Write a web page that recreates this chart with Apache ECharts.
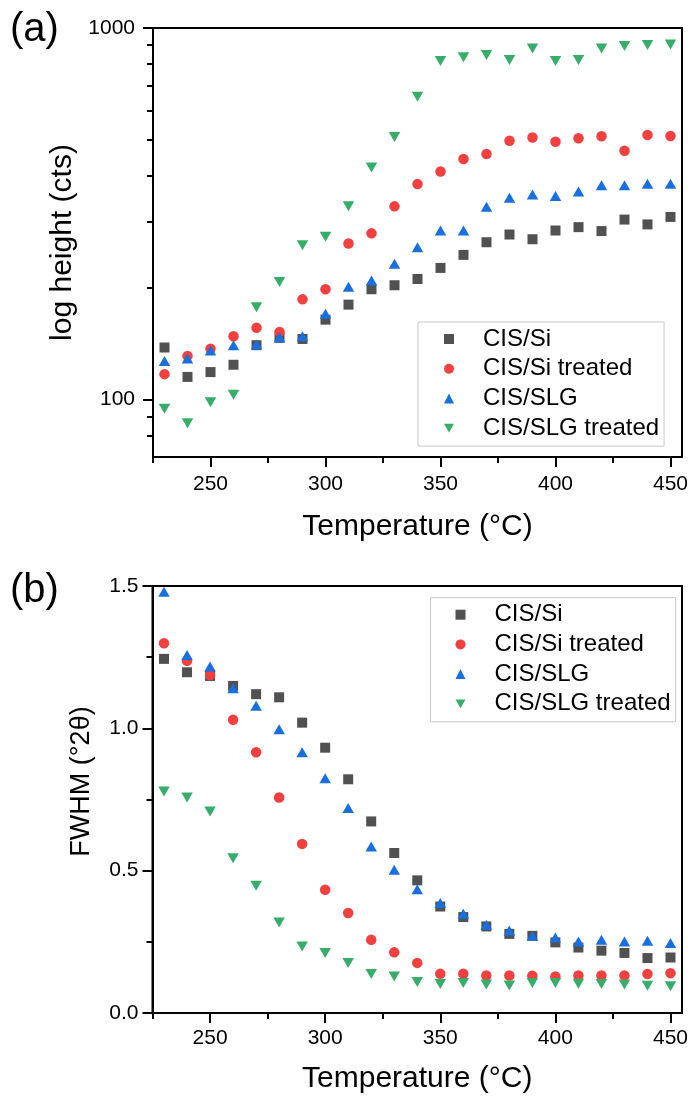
<!DOCTYPE html>
<html>
<head>
<meta charset="utf-8">
<style>
html,body{margin:0;padding:0;background:#fff;}
#c{width:694px;height:1099px;}
</style>
<script src="https://cdn.jsdelivr.net/npm/echarts@6/dist/echarts.min.js"></script>
</head>
<body>
<div id="c"></div>
<script>
// ---- data ----
const temps = [230,240,250,260,270,280,290,300,310,320,330,340,350,360,370,380,390,400,410,420,430,440,450];
const seriesNames = ['CIS/Si','CIS/Si treated','CIS/SLG','CIS/SLG treated'];

// (a) log height (cts)
const cisSiHeight        = [138,115,118.5,124,140,146.5,145.5,164,180,198,203,211,226,245,265,278,270,285,291,284,305,296,310];
const cisSiTreatedHeight = [117,131,137,148,156,152,186,198,263,280,331,380,411,444,458,497,507,494,505,511,467,515,512];
const cisSlgHeight       = [127,129,135.5,140,140.5,147,148,170,201,209,232,257,285,285,330,349,356,353,363,377,377,381,381];
const cisSlgTreatedHeight= [94.4,86.3,98.3,103,177,207,260,274,331,421,509,653,815,834,846,820,881,815,820,881,894,900,903];

// (b) FWHM (°2θ)
const cisSiFwhm        = [1.244,1.197,1.184,1.149,1.120,1.109,1.020,0.932,0.821,0.673,0.562,0.466,0.374,0.337,0.304,0.278,0.271,0.248,0.230,0.219,0.211,0.193,0.195];
const cisSiTreatedFwhm = [1.299,1.237,1.187,1.030,0.916,0.757,0.594,0.433,0.351,0.257,0.213,0.176,0.138,0.138,0.132,0.132,0.131,0.128,0.132,0.132,0.132,0.137,0.140];
const cisSlgFwhm       = [1.480,1.258,1.217,1.141,1.079,0.997,0.916,0.825,0.720,0.585,0.503,0.435,0.386,0.349,0.310,0.290,0.271,0.265,0.251,0.257,0.251,0.254,0.246];
const cisSlgTreatedFwhm= [0.778,0.757,0.708,0.544,0.447,0.318,0.234,0.211,0.176,0.137,0.128,0.109,0.102,0.105,0.100,0.097,0.105,0.105,0.103,0.102,0.100,0.096,0.094];

// ticks
const xMajorTicks = [250,300,350,400,450];
const xMinorTicks = [225,275,325,375,425];
const logMajorTicks = [100,1000];
const logMinorTicks = [80,90,200,300,400,500,600,700,800,900];

// ---- styling ----
const FONT = '"Liberation Sans", Arial, sans-serif';
const colors = ['#515151','#F14040','#1A6FDF','#37AD6B'];
const symbols = ['rect','circle','triangle','path://M0,0L10,0L5,8.66Z'];
const symSizes = [[10,10],[10.5,10.5],[11.5,10],[11.5,10]];

const heightSets = [cisSiHeight, cisSiTreatedHeight, cisSlgHeight, cisSlgTreatedHeight];
const fwhmSets = [cisSiFwhm, cisSiTreatedFwhm, cisSlgFwhm, cisSlgTreatedFwhm];

const axisLine = {show:true, onZero:false, lineStyle:{color:'#000', width:2}};
const labelStyle = {color:'#000', fontSize:21, fontFamily:FONT};
const nameStyle = {color:'#000', fontSize:30, fontFamily:FONT};

function xMain(gridIndex, margin, nameGap){
  return {
    type:'value', gridIndex, min:225, max:455, position:'bottom',
    axisLine, splitLine:{show:false},
    axisTick:{show:true, inside:false, length:10, customValues:xMajorTicks, lineStyle:{color:'#000', width:2}},
    axisLabel:{show:true, margin, customValues:xMajorTicks, ...labelStyle},
    name:'Temperature (°C)', nameLocation:'middle', nameGap, nameTextStyle:nameStyle
  };
}
function xMinor(gridIndex){
  return {
    type:'value', gridIndex, min:225, max:455, position:'bottom',
    axisLine:{show:false}, splitLine:{show:false},
    axisTick:{show:true, inside:false, length:6, customValues:xMinorTicks, lineStyle:{color:'#000', width:2}},
    axisLabel:{show:false}
  };
}

const series = [];
for (let i=0;i<4;i++){
  series.push({
    type:'scatter', name:seriesNames[i], xAxisIndex:0, yAxisIndex:0,
    symbol:symbols[i], symbolSize:symSizes[i],
    itemStyle:{color:colors[i], opacity:1},
    data: temps.map((t,k)=>[t, heightSets[i][k]])
  });
}
for (let i=0;i<4;i++){
  series.push({
    type:'scatter', name:seriesNames[i], xAxisIndex:2, yAxisIndex:2,
    symbol:symbols[i], symbolSize:symSizes[i],
    itemStyle:{color:colors[i], opacity:1},
    data: temps.map((t,k)=>[t, fwhmSets[i][k]])
  });
}

function legendAt(left, top, padding){
  return {
    orient:'vertical', left, top, padding,
    itemWidth:10, itemHeight:10, itemGap:5.7,
    selectedMode:false, symbolKeepAspect:true,
    borderColor:'#c8c8c8', borderWidth:1, backgroundColor:'#fff',
    textStyle:{color:'#000', fontSize:24, lineHeight:24, fontFamily:FONT, padding:[0,0,0,24]},
    data:seriesNames
  };
}

const option = {
  animation:false,
  backgroundColor:'#fff',
  title:[
    {text:'(a)', left:10, top:10, padding:0, textStyle:{fontSize:40, fontWeight:'normal', color:'#000', fontFamily:FONT}},
    {text:'(b)', left:10, top:571, padding:0, textStyle:{fontSize:40, fontWeight:'normal', color:'#000', fontFamily:FONT}}
  ],
  grid:[
    {left:153, top:28, width:529, height:429, show:true, borderColor:'#000', borderWidth:2, backgroundColor:'transparent'},
    {left:152.5, top:586, width:529.5, height:427, show:true, borderColor:'#000', borderWidth:2, backgroundColor:'transparent'}
  ],
  legend:[ legendAt(418, 322, [5,5,6,26]), legendAt(430.5, 597.7, [5,5,6,25]) ],
  xAxis:[ xMain(0, 17, 55), xMinor(0), xMain(1, 15, 51), xMinor(1) ],
  yAxis:[
    {
      type:'log', logBase:10, gridIndex:0, min:70, max:1000, position:'left',
      axisLine, splitLine:{show:false}, minorTick:{show:false},
      axisTick:{show:true, inside:false, length:10, customValues:logMajorTicks, lineStyle:{color:'#000', width:2}},
      axisLabel:{show:true, margin:18, customValues:logMajorTicks, formatter:(v)=>String(Math.round(v)), ...labelStyle},
      name:'log height (cts)', nameLocation:'middle', nameGap:74, nameTextStyle:nameStyle
    },
    {
      type:'log', logBase:10, gridIndex:0, min:70, max:1000, position:'left',
      axisLine:{show:false}, splitLine:{show:false},
      axisTick:{show:true, inside:false, length:6, customValues:logMinorTicks, lineStyle:{color:'#000', width:2}},
      axisLabel:{show:false}
    },
    {
      type:'value', gridIndex:1, min:0, max:1.5, interval:0.5, position:'left',
      axisLine, splitLine:{show:false},
      axisTick:{show:true, inside:false, length:10, lineStyle:{color:'#000', width:2}},
      minorTick:{show:true, splitNumber:2, length:6, lineStyle:{color:'#000', width:2}},
      minorSplitLine:{show:false},
      axisLabel:{show:true, margin:14, formatter:(v)=>v.toFixed(1), ...labelStyle},
      name:'FWHM (°2θ)', nameLocation:'middle', nameGap:57,
      nameTextStyle:{...nameStyle, fontSize:27, padding:[0,0,0,36]}
    }
  ],
  series
};

const chart = echarts.init(document.getElementById('c'), null, {renderer:'canvas'});
chart.setOption(option);
</script>
</body>
</html>
